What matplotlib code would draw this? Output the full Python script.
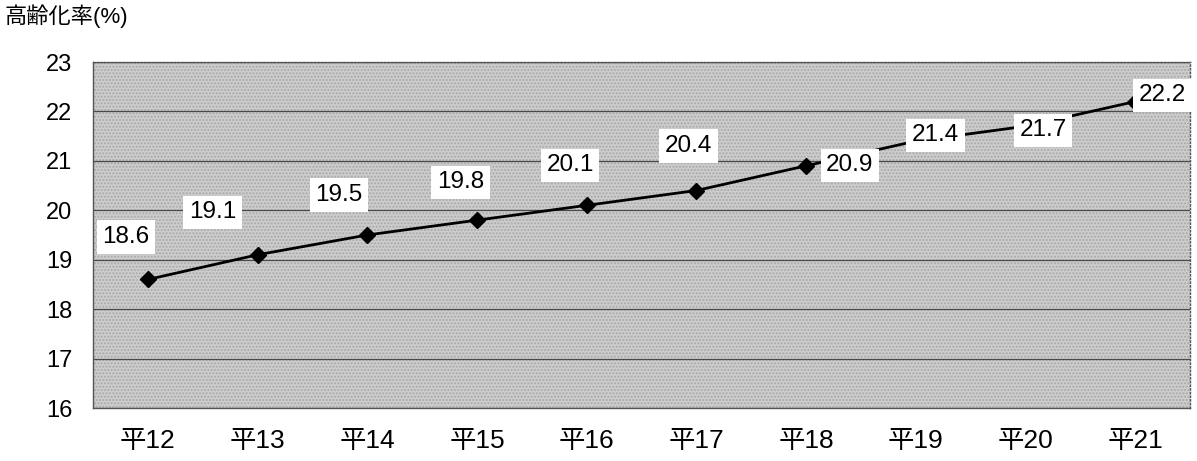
import matplotlib.pyplot as plt
from matplotlib.patches import Rectangle

plt.rcParams['font.family'] = ['Liberation Sans', 'Noto Sans CJK JP', 'DejaVu Sans']

# data
years = ["平12", "平13", "平14", "平15", "平16", "平17", "平18", "平19", "平20", "平21"]
rate = [18.6, 19.1, 19.5, 19.8, 20.1, 20.4, 20.9, 21.4, 21.7, 22.2]

# label offsets (x in categories, y in %)
lab_dx = [-0.2, -0.41, -0.26, -0.15, -0.15, -0.07, 0.4, 0.18, 0.16, 0.25]
lab_dy = [0.86, 0.86, 0.81, 0.77, 0.81, 0.9, 0.01, 0.12, -0.08, 0.13]

fig = plt.figure(figsize=(11.97, 4.61), dpi=100)
ax = fig.add_axes([93/1197, 1 - 408/461, (1190 - 93)/1197, (408 - 62)/461])

x = list(range(len(years)))
ax.set_facecolor('#cdcdcd')
ax.add_patch(Rectangle((0, 0), 1, 1, transform=ax.transAxes, facecolor='none',
                       edgecolor='#a8a8a8', hatch='.....', lw=0, zorder=0))
ax.set_xlim(-0.5, 9.5)
ax.set_ylim(16, 23)
ax.set_yticks(range(16, 24))
ax.grid(axis='y', color='#4a4a4a', lw=0.9)
ax.set_axisbelow(True)

ax.plot(x, rate, color='black', lw=2, marker='D', ms=8.5, zorder=3)
for i, v in enumerate(rate):
    ax.text(i + lab_dx[i], v + lab_dy[i], f"{v:.1f}", fontsize=17.5,
            ha='center', va='center', zorder=4,
            bbox=dict(facecolor='white', edgecolor='none', pad=4))

ax.set_xticks(x)
ax.set_xticklabels(years, fontsize=19)
ax.tick_params(axis='x', length=0, pad=15)
ax.tick_params(axis='y', length=0, pad=15, labelsize=17)
for s in ax.spines.values():
    s.set_color('#555555')
    s.set_linewidth(1)
ax.spines['top'].set_linestyle(':')
ax.spines['right'].set_linestyle(':')

fig.text(5/1197, 1 - 16/461, "高齢化率(%)", fontsize=16, va='center', ha='left')

fig.savefig('out.png', dpi=100)
